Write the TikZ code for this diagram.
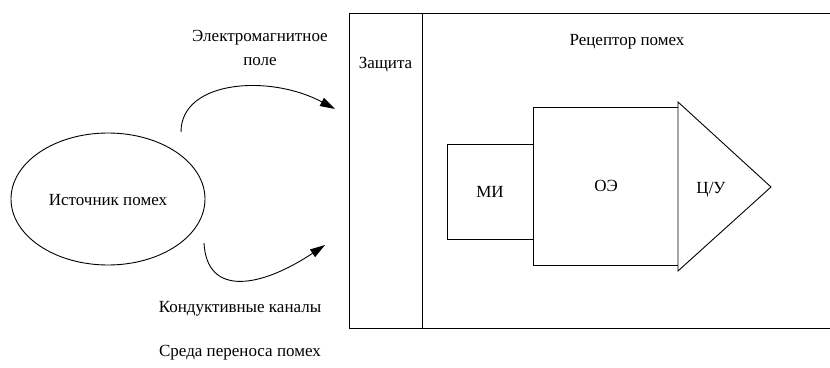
\documentclass[tikz,border=0pt]{standalone}
\usepackage{fontspec}
\setmainfont{Liberation Serif}
\newfontfamily\diagfont{Liberation Serif}
\usetikzlibrary{arrows.meta,shapes.geometric}
\begin{document}
\begin{tikzpicture}[x=1pt,y=-1pt,
  every node/.style={font=\diagfont\fontsize{17}{20}\selectfont, inner sep=0pt},
  line/.style={line width=0.9pt, black},
  lbl/.style={anchor=center},
  arr/.style={line width=0.9pt, -{Triangle[length=15pt,width=9pt]}}]
\useasboundingbox (0,0) rectangle (830,367);
% source
\node[ellipse, draw, line width=0.9pt, minimum width=194pt, minimum height=132pt] (src) at (108,199) {};
\node[lbl] (srct) at (108,200) {Источник помех};
% receptor frame
\coordinate (tl) at (349,13);
\coordinate (bl) at (349,328);
\coordinate (tr) at (830,13);
\coordinate (br) at (830,328);
\coordinate (dt) at (422,13);
\coordinate (db) at (422,328);
\draw[line] (tr) -- (tl) -- (bl) -- (br);
\draw[line] (dt) -- (db);
\node[lbl] (prot) at (385.5,65) {Защита};
\node[lbl] (rec) at (627,42) {Рецептор помех};
% inner blocks
\node[draw, line width=0.9pt, minimum width=86pt, minimum height=95pt] (mi) at (490,191.5) {};
\node[lbl] (mit) at (490,192) {МИ};
\node[draw, line width=0.9pt, minimum width=145pt, minimum height=158pt] (oe) at (605.5,186) {};
\node[lbl] (oet) at (606,186) {ОЭ};
\coordinate (tb1) at (678,102);
\coordinate (tb2) at (678,271);
\coordinate (tip) at (771,187);
\draw[line, fill=white, line join=miter] (tb1) -- (tip) -- (tb2) -- cycle;
\node[lbl] (cu) at (711,190) {Ц/У};
% channels
\coordinate (a1s) at (181,132);
\coordinate (a1e) at (335,109);
\coordinate (a2s) at (204,243);
\coordinate (a2e) at (325,245);
\draw[arr] (a1s) .. controls (181,80) and (270,74) .. (a1e);
\draw[arr] (a2s) .. controls (207,298) and (262,287) .. (a2e);
\node[lbl] (em1) at (260,38) {Электромагнитное};
\node[lbl] (em2) at (260,62) {поле};
\node[lbl] (kk) at (240,309) {Кондуктивные каналы};
\node[lbl] (sr) at (240,353) {Среда переноса помех};
\end{tikzpicture}
\end{document}
